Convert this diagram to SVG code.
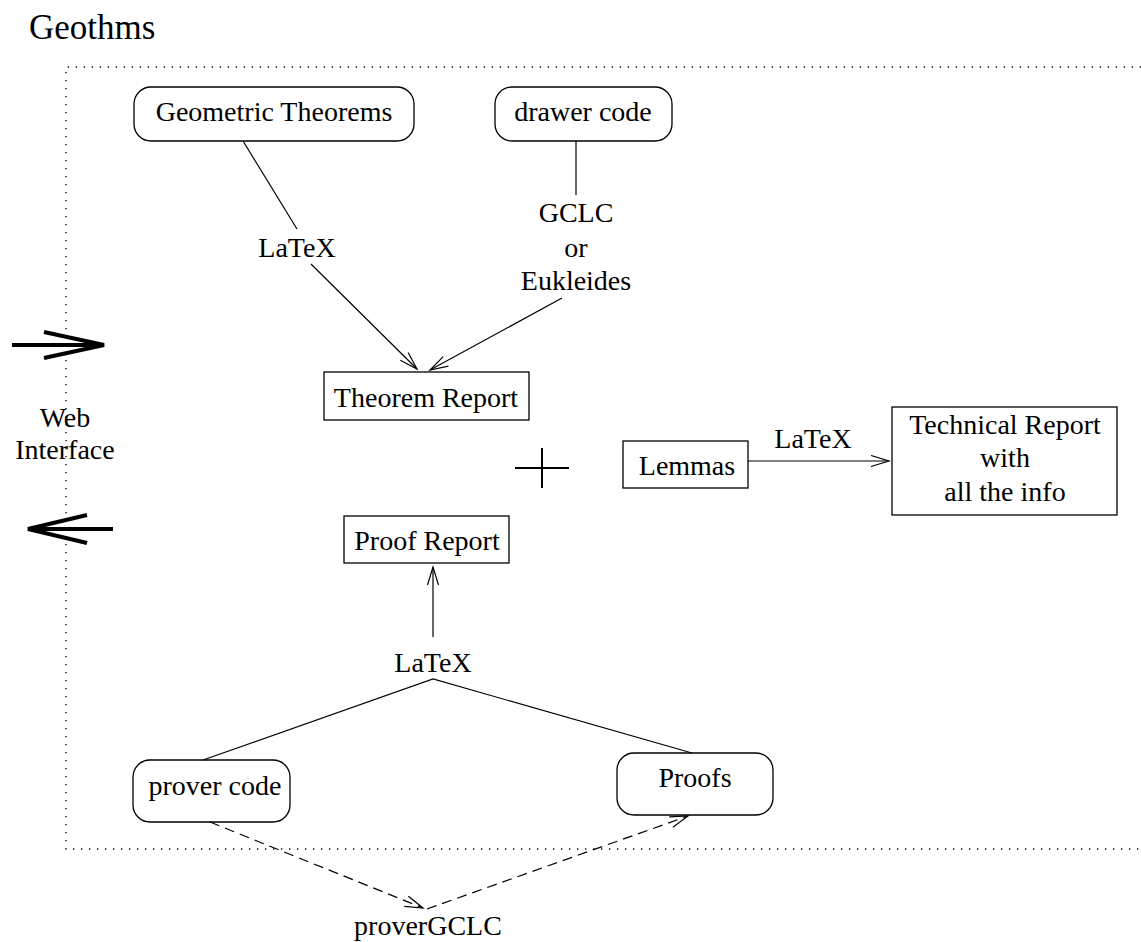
<svg xmlns="http://www.w3.org/2000/svg" width="1141" height="942" viewBox="0 0 1141 942">
<style>
text{font-family:"Liberation Serif","Times New Roman",serif;font-size:28px;fill:#000;text-anchor:middle}
.box{fill:none;stroke:#000;stroke-width:1.3}
.ln{fill:none;stroke:#000;stroke-width:1.2}
.dash{fill:none;stroke:#000;stroke-width:1.2;stroke-dasharray:10 6}
.dot{fill:none;stroke:#000;stroke-width:1.3;stroke-dasharray:1.3 6.7}
.thick{fill:none;stroke:#000;stroke-width:4}
</style>
<defs>
<marker id="ah" markerUnits="userSpaceOnUse" markerWidth="24" markerHeight="16" refX="19" refY="6" orient="auto" viewBox="0 0 24 16">
<path d="M1,0.5 L19,6 L1,11.5" fill="none" stroke="#000" stroke-width="1.2"/>
</marker>
</defs>
<rect width="1141" height="942" fill="#fff"/>
<text x="29" y="39" style="text-anchor:start;font-size:35px">Geothms</text>
<g id="frame">
<path class="dot" d="M1141,67 H66 V849 H1141"/>
</g>
<g id="connectors">
<path class="ln" d="M243,141 L297,229"/>
<path class="ln" d="M311,264 L417,369" marker-end="url(#ah)"/>
<path class="ln" d="M576,141 V195"/>
<path class="ln" d="M562,298 L430,370" marker-end="url(#ah)"/>
<path class="ln" d="M748,461 H889" marker-end="url(#ah)"/>
<path class="ln" d="M433,637 V567" marker-end="url(#ah)"/>
<path class="ln" d="M203,760 L433,679 L692,753"/>
<path class="dash" d="M210,822 L423,908" marker-end="url(#ah)"/>
<path class="dash" d="M427,909 L688,816" marker-end="url(#ah)"/>
<path class="thick" d="M12,345 H104 M44,332 L104,345 L44,358"/>
<path class="thick" d="M113,529 H28 M87,515 L28,529 L87,543"/>
<path class="ln" d="M515,468 H569 M542,448 V488" style="stroke-width:2"/>
</g>
<g id="labels">
<text x="297" y="257">LaTeX</text>
<text x="576" y="222">GCLC</text>
<text x="576" y="257">or</text>
<text x="576" y="290">Eukleides</text>
<text x="813" y="448">LaTeX</text>
<text x="433" y="672">LaTeX</text>
<text x="428" y="935">proverGCLC</text>
<text x="65" y="427">Web</text>
<text x="65" y="459">Interface</text>
</g>
<g id="geometric-theorems">
<rect class="box" x="134" y="87" width="280" height="54" rx="17"/>
<text x="274" y="121">Geometric Theorems</text>
</g>
<g id="drawer-code">
<rect class="box" x="495" y="87" width="177" height="54" rx="17"/>
<text x="583" y="121">drawer code</text>
</g>
<g id="theorem-report">
<rect class="box" x="324" y="372" width="205" height="48"/>
<text x="426" y="407">Theorem Report</text>
</g>
<g id="lemmas">
<rect class="box" x="623" y="441" width="125" height="47"/>
<text x="687" y="475">Lemmas</text>
</g>
<g id="technical-report">
<rect class="box" x="892" y="407" width="225" height="108"/>
<text x="1005" y="434">Technical Report</text>
<text x="1005" y="467">with</text>
<text x="1005" y="501">all the info</text>
</g>
<g id="proof-report">
<rect class="box" x="344" y="516" width="165" height="47"/>
<text x="427" y="550">Proof Report</text>
</g>
<g id="prover-code">
<rect class="box" x="133" y="760" width="157" height="62" rx="17"/>
<text x="215" y="795">prover code</text>
</g>
<g id="proofs">
<rect class="box" x="617" y="753" width="156" height="62" rx="17"/>
<text x="695" y="787">Proofs</text>
</g>
</svg>
